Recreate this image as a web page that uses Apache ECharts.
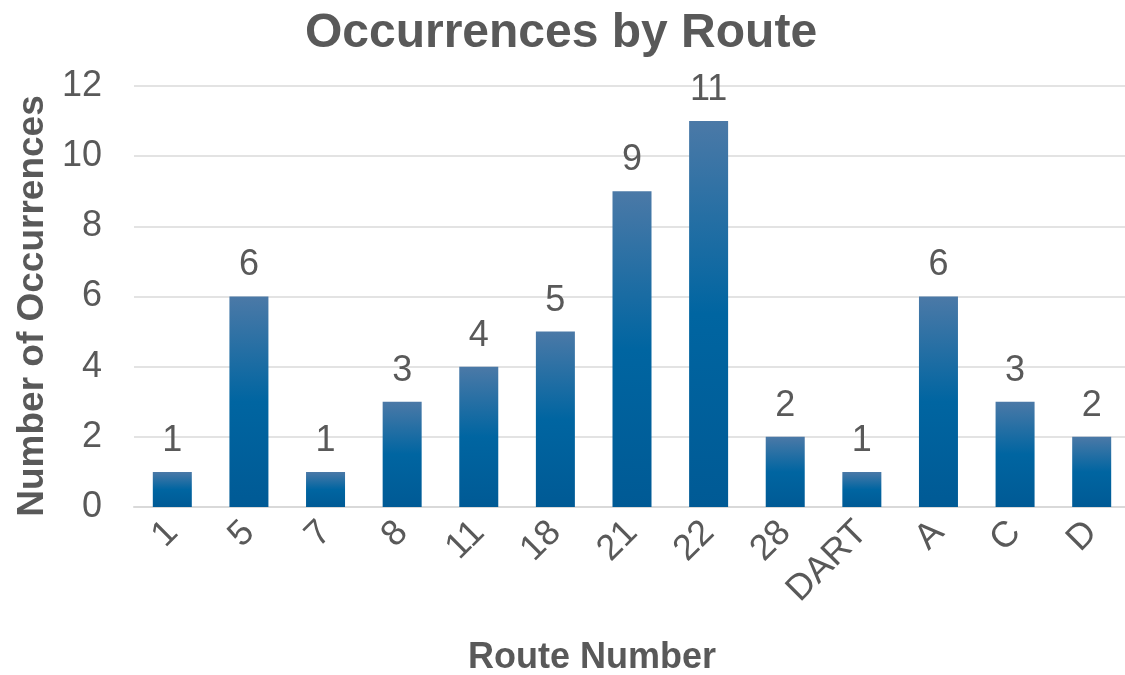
<!DOCTYPE html>
<html>
<head>
<meta charset="utf-8">
<script src="https://cdn.jsdelivr.net/npm/echarts@6/dist/echarts.min.js"></script>
<style>
  html, body { margin: 0; padding: 0; background: #ffffff; overflow: hidden; }
  #chart { width: 1135px; height: 675px; }
</style>
</head>
<body>
<div id="chart"></div>
<script>
// Route categories and how many occurrences each had
const routes = ['1', '5', '7', '8', '11', '18', '21', '22', '28', 'DART', 'A', 'C', 'D'];
const occurrences = [1, 6, 1, 3, 4, 5, 9, 11, 2, 1, 6, 3, 2];
const yTicks = { min: 0, max: 12, interval: 2 };

const textColor = '#595959';
const fontFamily = 'Arial, "Liberation Sans", Helvetica, sans-serif';

const chart = echarts.init(document.getElementById('chart'), null, { renderer: 'canvas' });

chart.setOption({
  backgroundColor: '#ffffff',
  animation: false,
  title: {
    text: 'Occurrences by Route',
    left: 556,
    top: 5,
    textAlign: 'center',
    textStyle: { color: textColor, fontSize: 48, fontWeight: 'bold', fontFamily: fontFamily }
  },
  grid: { left: 134, right: 5, top: 86, bottom: 168, containLabel: false },
  xAxis: {
    type: 'category',
    data: routes,
    axisLine: { show: true, lineStyle: { color: '#d9d9d9', width: 2 } },
    axisTick: { show: false },
    axisLabel: {
      rotate: 45,
      margin: 20,
      color: textColor,
      fontSize: 36,
      fontFamily: fontFamily,
      interval: 0
    }
  },
  yAxis: {
    type: 'value',
    min: yTicks.min,
    max: yTicks.max,
    interval: yTicks.interval,
    axisLine: { show: false },
    axisTick: { show: false },
    splitLine: { lineStyle: { color: '#e3e3e3', width: 2 } },
    axisLabel: {
      margin: 32,
      color: textColor,
      fontSize: 36,
      fontFamily: fontFamily
    }
  },
  graphic: [
    {
      type: 'text',
      x: 592,
      y: 658,
      style: {
        text: 'Route Number',
        fill: textColor,
        font: 'bold 36px ' + fontFamily,
        textAlign: 'center',
        textVerticalAlign: 'middle'
      }
    },
    {
      type: 'text',
      x: 33,
      y: 306,
      rotation: Math.PI / 2,
      style: {
        text: 'Number of Occurrences',
        fill: textColor,
        font: 'bold 37px ' + fontFamily,
        textAlign: 'center',
        textVerticalAlign: 'middle'
      }
    }
  ],
  series: [
    {
      type: 'bar',
      data: occurrences,
      barWidth: 39,
      itemStyle: {
        color: new echarts.graphic.LinearGradient(0, 0, 0, 1, [
          { offset: 0, color: '#4b79a7' },
          { offset: 0.5, color: '#0065a1' },
          { offset: 1, color: '#005a95' }
        ])
      },
      label: {
        show: true,
        position: 'top',
        distance: 13,
        color: textColor,
        fontSize: 36,
        fontFamily: fontFamily
      }
    }
  ]
});
</script>
</body>
</html>
